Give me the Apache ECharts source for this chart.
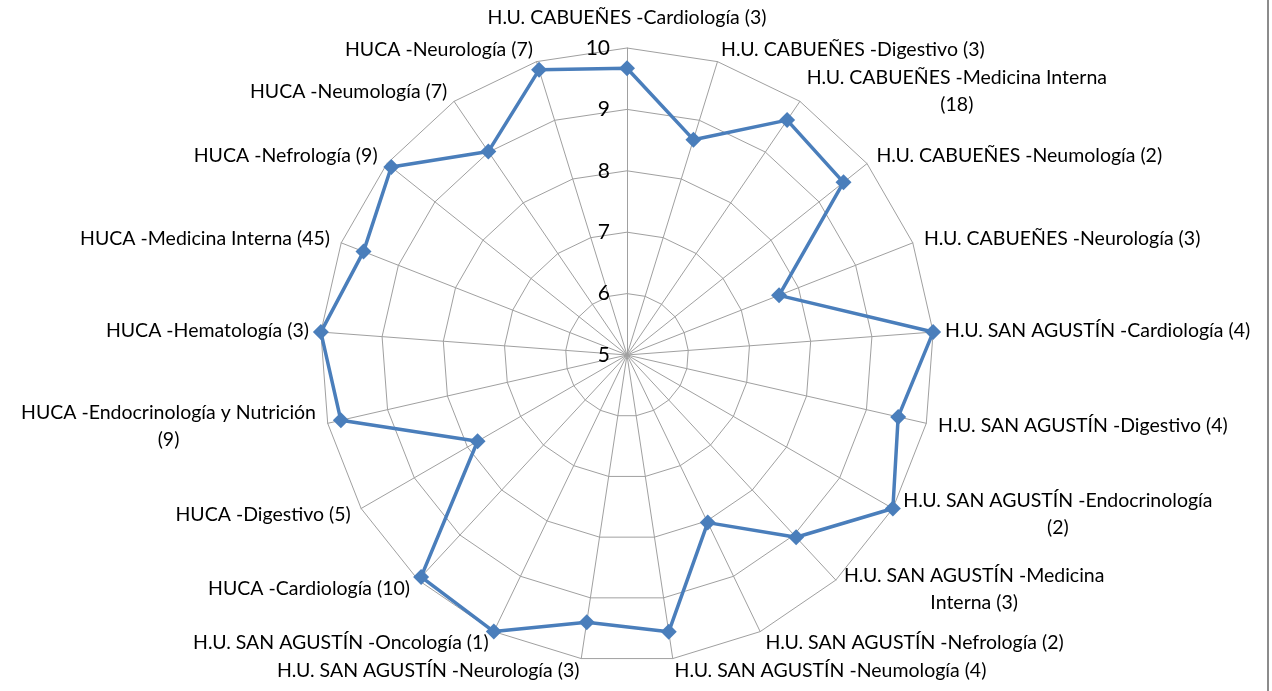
<!DOCTYPE html>
<html><head><meta charset="utf-8">
<script src="https://cdn.jsdelivr.net/npm/echarts@6/dist/echarts.min.js"></script>
<style>html,body{margin:0;padding:0;background:#fff}#c{width:1272px;height:691px}</style>
</head><body><div id="c"></div>
<script>
// Categories in clockwise order starting at the top
const categories = [
  'H.U. CABUEÑES -Cardiología (3)',
  'H.U. CABUEÑES -Digestivo (3)',
  'H.U. CABUEÑES -Medicina Interna\n(18)',
  'H.U. CABUEÑES -Neumología (2)',
  'H.U. CABUEÑES -Neurología (3)',
  'H.U. SAN AGUSTÍN -Cardiología (4)',
  'H.U. SAN AGUSTÍN -Digestivo (4)',
  'H.U. SAN AGUSTÍN -Endocrinología\n(2)',
  'H.U. SAN AGUSTÍN -Medicina\nInterna (3)',
  'H.U. SAN AGUSTÍN -Nefrología (2)',
  'H.U. SAN AGUSTÍN -Neumología (4)',
  'H.U. SAN AGUSTÍN -Neurología (3)',
  'H.U. SAN AGUSTÍN -Oncología (1)',
  'HUCA -Cardiología (10)',
  'HUCA -Digestivo (5)',
  'HUCA -Endocrinología y Nutrición\n(9)',
  'HUCA -Hematología (3)',
  'HUCA -Medicina Interna (45)',
  'HUCA -Nefrología (9)',
  'HUCA -Neumología (7)',
  'HUCA -Neurología (7)'
];
const values = [
  9.67, 8.67, 9.63, 9.51, 7.66, 10.0, 9.53, 10.0, 9.05, 8.03, 9.56,
  9.40, 10.0, 9.93, 7.81, 9.78, 10.0, 9.61, 9.91, 9.01, 9.86
];
const axisMin = 5;
const axisMax = 10;
const splitCount = 5;

const FONT = 'Lato, "Liberation Sans", sans-serif';
const NAME_SIZE = 19.5;

// ECharts places radar indicators counterclockwise; reorder so they run clockwise
const order = [0].concat(categories.map((_, i) => i).slice(1).reverse());
const indicator = order.map((k, j) => {
  const o = { name: categories[k], min: axisMin, max: axisMax };
  if (j === 0) { o.axisLabel = { show: true }; o.nameGap = 17; }
  return o;
});

const chart = echarts.init(document.getElementById('c'), null, { renderer: 'canvas' });
chart.setOption({
  animation: false,
  backgroundColor: '#fff',
  radar: {
    center: [627, 355],
    radius: 307,
    startAngle: 90,
    shape: 'polygon',
    splitNumber: splitCount,
    indicator: indicator,
    nameGap: 12,
    axisName: {
      color: '#000',
      fontSize: NAME_SIZE,
      fontFamily: FONT,
      lineHeight: 27,
      formatter: function (name) {
        if (name.indexOf('\n') < 0) return name;
        return name.split('\n').map(s => '{c|' + s + '}').join('\n');
      },
      rich: {
        c: { align: 'center', fontSize: NAME_SIZE, fontFamily: FONT, color: '#000', lineHeight: 27 }
      }
    },
    axisLabel: { show: false, color: '#000', fontSize: 21, fontFamily: FONT, margin: 17 },
    axisTick: { show: false },
    axisLine: { lineStyle: { color: '#a0a0a0', width: 1 } },
    splitLine: { lineStyle: { color: '#a0a0a0', width: 1 } },
    splitArea: { show: false }
  },
  graphic: [{
    type: 'line', shape: { x1: 1268, y1: 0, x2: 1268, y2: 691 },
    style: { stroke: '#8c8c8c', lineWidth: 2 }
  }],
  series: [{
    type: 'radar',
    symbol: 'diamond',
    symbolSize: 16,
    lineStyle: { color: '#4a7ebb', width: 3.5 },
    itemStyle: { color: '#4a7ebb' },
    data: [{ value: order.map(k => values[k]) }]
  }]
});
</script></body></html>
